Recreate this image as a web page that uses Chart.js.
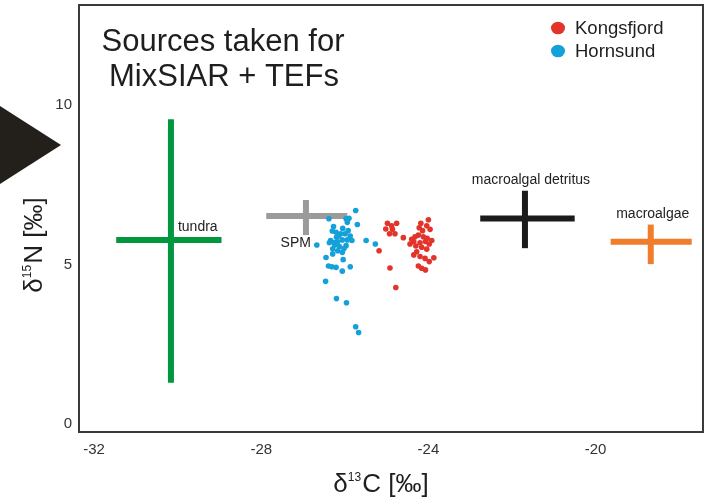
<!DOCTYPE html>
<html>
<head>
<meta charset="utf-8">
<title>Sources taken for MixSIAR + TEFs</title>
<script src="https://cdn.jsdelivr.net/npm/chart.js@4.4.1/dist/chart.umd.min.js"></script>
<style>
  html, body { margin: 0; padding: 0; background: #fff; }
  #wrap { width: 708px; height: 502px; }
</style>
</head>
<body>
<div id="wrap"><canvas id="isotopeChart"></canvas></div>
<script>
// axis ticks
const xTicks = [-32, -28, -24, -20];
const yTicks = [0, 5, 10];

// source end-members (d13C on x, d15N on y): mean and spread
const sourceNames = ['tundra', 'SPM', 'macroalgal detritus', 'macroalgae'];
const sourceC = [-30.16, -26.93, -21.69, -18.68];
const sourceCLow = [-31.47, -27.88, -22.76, -19.64];
const sourceCHigh = [-28.95, -25.94, -20.50, -17.70];
const sourceN = [5.77, 6.52, 6.44, 5.71];
const sourceNLow = [1.29, 5.92, 5.51, 5.01];
const sourceNHigh = [9.55, 7.02, 7.31, 6.25];

// consumer samples
const kongsfjordC = [-24.98, -24.88, -24.76, -25.02, -24.86, -24.18, -24.00, -24.04, -24.22, -24.14,
  -23.96, -24.93, -24.80, -24.60, -24.40, -24.32, -24.24, -24.12, -24.03, -23.92,
  -24.35, -24.20, -24.07, -23.98, -24.44, -24.30, -24.16, -24.04, -24.28, -24.35,
  -24.20, -25.18, -24.08, -23.87, -23.98, -24.24, -24.16, -24.07, -24.92, -24.78];
const kongsfjordN = [6.29, 6.21, 6.29, 6.11, 6.10, 6.29, 6.40, 6.21, 6.15, 6.06,
  6.10, 5.96, 5.96, 5.84, 5.79, 5.87, 5.92, 5.87, 5.82, 5.75,
  5.72, 5.68, 5.72, 5.64, 5.64, 5.58, 5.54, 5.48, 5.40, 5.30,
  5.25, 5.43, 5.19, 5.21, 5.09, 4.95, 4.88, 4.83, 4.89, 4.28];
const hornsundC = [-25.74, -26.38, -25.97, -25.94, -25.70, -26.27, -26.05, -25.92, -26.21, -26.10,
  -25.99, -26.15, -25.87, -26.34, -26.37, -26.26, -26.17, -26.06, -25.94, -25.83,
  -26.67, -25.49, -25.27, -26.24, -26.13, -25.97, -26.29, -26.17, -26.06, -26.29,
  -26.45, -26.04, -26.39, -26.31, -26.21, -25.87, -26.06, -26.46, -26.20, -25.96,
  -25.74, -25.67, -26.20, -26.02, -26.30, -25.90];
const hornsundN = [6.69, 6.43, 6.43, 6.32, 6.25, 6.19, 6.13, 6.06, 6.01, 5.96,
  5.96, 5.89, 5.89, 5.75, 5.68, 5.69, 5.71, 5.77, 5.77, 5.75,
  5.61, 5.75, 5.64, 5.61, 5.56, 5.59, 5.49, 5.43, 5.38, 5.33,
  5.22, 5.15, 4.95, 4.93, 4.91, 4.93, 4.79, 4.47, 3.93, 3.80,
  3.05, 2.87, 5.85, 5.50, 6.05, 6.45];

// colours and label placement (pixel offsets from the cross)
const sourceColors = ['#00973f', '#9b9b9b', '#1b1b1b', '#f07d2c'];
const sourceLabelStyle = [
  { align: 'left', dx: 7, dy: -13, at: 'center' },
  { align: 'right', dx: 5, dy: 27, at: 'center' },
  { align: 'center', dx: 6, dy: -11, at: 'top' },
  { align: 'center', dx: 2, dy: -10, at: 'top' }
];
const KONGS_COLOR = '#e3342b';
const HORN_COLOR = '#14a0d9';
const FONT = "'Liberation Sans', Arial, sans-serif";

Chart.defaults.font.family = FONT;

const toPoints = (xs, ys) => xs.map((x, i) => ({ x: x, y: ys[i] }));

const datasets = [
  {
    label: 'Kongsfjord',
    data: toPoints(kongsfjordC, kongsfjordN),
    backgroundColor: KONGS_COLOR,
    borderWidth: 0,
    pointRadius: 2.8,
    order: 0
  },
  {
    label: 'Hornsund',
    data: toPoints(hornsundC, hornsundN),
    backgroundColor: HORN_COLOR,
    borderWidth: 0,
    pointRadius: 2.8,
    order: 0
  }
];

// each source is a cross: a horizontal arm for d13C and a vertical arm for d15N
sourceNames.forEach((name, i) => {
  const arm = {
    showLine: true,
    borderColor: sourceColors[i],
    borderWidth: 6,
    borderCapStyle: 'butt',
    pointRadius: 0,
    order: 1
  };
  datasets.push(Object.assign({ label: name + ' C', data: [
    { x: sourceCLow[i], y: sourceN[i] }, { x: sourceCHigh[i], y: sourceN[i] }
  ] }, arm));
  datasets.push(Object.assign({ label: name + ' N', data: [
    { x: sourceC[i], y: sourceNLow[i] }, { x: sourceC[i], y: sourceNHigh[i] }
  ] }, arm));
});

// text with a raised isotope number, e.g. d13C [permil]
function drawIsotope(ctx, cx, cy, mass, element, rotate) {
  const big = '26px ' + FONT;
  const small = '12px ' + FONT;
  ctx.save();
  ctx.translate(cx, cy);
  if (rotate) ctx.rotate(-Math.PI / 2);
  ctx.fillStyle = '#1e1e1e';
  ctx.textBaseline = 'middle';
  ctx.textAlign = 'left';
  ctx.font = big;
  const wD = ctx.measureText('\u03b4').width;
  const wRest = ctx.measureText(element + ' [\u2030]').width;
  ctx.font = small;
  const wSup = ctx.measureText(mass).width + 1;
  let x = -(wD + wSup + wRest) / 2;
  ctx.font = big;
  ctx.fillText('\u03b4', x, 0);
  x += wD;
  ctx.font = small;
  ctx.fillText(mass, x, -7);
  x += wSup;
  ctx.font = big;
  ctx.fillText(element + ' [\u2030]', x, 0);
  ctx.restore();
}

const decorations = {
  id: 'decorations',
  beforeDatasetsDraw(chart) {
    const { ctx, chartArea: a } = chart;
    ctx.save();
    ctx.strokeStyle = '#3a3a3a';
    ctx.lineWidth = 2;
    ctx.beginPath();
    ctx.moveTo(a.left, a.top);
    ctx.lineTo(a.right, a.top);
    ctx.lineTo(a.right, a.bottom);
    ctx.stroke();
    ctx.restore();
  },
  afterDraw(chart) {
    const { ctx } = chart;
    const xs = chart.scales.x;
    const ys = chart.scales.y;
    ctx.save();

    // title inside the plot
    ctx.fillStyle = '#1e1e1e';
    ctx.font = '31px ' + FONT;
    ctx.textAlign = 'center';
    ctx.textBaseline = 'middle';
    ctx.fillText('Sources taken for', 223, 42);
    ctx.fillText('MixSIAR + TEFs', 224, 77);

    // legend
    [0, 1].forEach(i => {
      const ds = chart.data.datasets[i];
      const y = 28 + i * 23;
      ctx.fillStyle = ds.backgroundColor;
      ctx.beginPath();
      ctx.ellipse(558, y, 7, 6.3, 0, 0, Math.PI * 2);
      ctx.fill();
      ctx.fillStyle = '#1e1e1e';
      ctx.font = '18.5px ' + FONT;
      ctx.textAlign = 'left';
      ctx.fillText(ds.label, 575, y + 1);
    });

    // source labels
    ctx.font = '14px ' + FONT;
    ctx.fillStyle = '#222';
    sourceNames.forEach((name, i) => {
      const s = sourceLabelStyle[i];
      const px = xs.getPixelForValue(sourceC[i]) + s.dx;
      const py = (s.at === 'top' ? ys.getPixelForValue(sourceNHigh[i]) : ys.getPixelForValue(sourceN[i])) + s.dy;
      ctx.textAlign = s.align;
      ctx.fillText(name, px, py);
    });

    // arrow at the left edge
    ctx.fillStyle = '#231f1b';
    ctx.beginPath();
    ctx.moveTo(0, 106);
    ctx.lineTo(61, 145);
    ctx.lineTo(0, 184);
    ctx.closePath();
    ctx.fill();

    // axis titles
    drawIsotope(ctx, 381, 485, '13', 'C', false);
    drawIsotope(ctx, 35, 245, '15', 'N', true);
    ctx.restore();
  }
};

new Chart(document.getElementById('isotopeChart'), {
  type: 'scatter',
  data: { datasets: datasets },
  options: {
    responsive: true,
    maintainAspectRatio: false,
    animation: false,
    layout: { padding: { top: 5, right: 5, left: 0, bottom: 0 } },
    plugins: {
      legend: { display: false },
      tooltip: { enabled: false }
    },
    scales: {
      x: {
        type: 'linear',
        min: -32.36,
        max: -17.43,
        afterBuildTicks: s => { s.ticks = xTicks.map(v => ({ value: v })); },
        afterFit: s => { s.height = 70; s.paddingLeft = 0; s.paddingRight = 0; },
        grid: { display: false, drawTicks: false, tickLength: 0 },
        border: { display: true, color: '#3a3a3a', width: 2 },
        ticks: { color: '#333', font: { size: 15 }, padding: 9, maxRotation: 0 }
      },
      y: {
        type: 'linear',
        min: -0.25,
        max: 13.13,
        afterBuildTicks: s => { s.ticks = yTicks.map(v => ({ value: v })); },
        afterFit: s => { s.width = 79; s.paddingTop = 0; s.paddingBottom = 0; },
        grid: { display: false, drawTicks: false, tickLength: 0 },
        border: { display: true, color: '#3a3a3a', width: 2 },
        ticks: { color: '#333', font: { size: 15 }, padding: 7 }
      }
    }
  },
  plugins: [decorations]
});
</script>
</body>
</html>
